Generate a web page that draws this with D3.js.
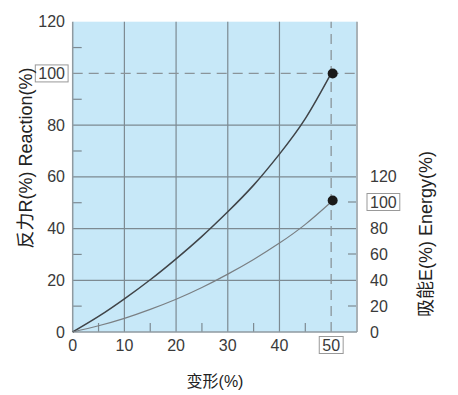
<!DOCTYPE html>
<html><head><meta charset="utf-8">
<script src="https://cdn.jsdelivr.net/npm/d3@7"></script>
<style>body{margin:0;background:#fff}svg{display:block}text{font-family:"Liberation Sans",Arial,"Noto Sans CJK SC",sans-serif}</style>
</head><body><svg id="c" width="458" height="395"></svg>
<script>
const deformation = [0,5,10,15,20,25,30,35,40,45,50];
const reaction    = [0,6,12.8,20.2,28.3,37,46.5,56.8,68.8,82.5,100];
const energy      = [0,4.8,10.5,17.4,25.2,34.2,44.5,55.8,68.4,82.8,100];
const xTicks = [0,10,20,30,40,50];
const yTicks = [0,20,40,60,80,100,120];
const eTicks = [0,20,40,60,80,100,120];
const boxedX = [50], boxedY = [100], boxedE = [100];

const svg = d3.select("#c");
const L=72.7, R=357, T=21.7, B=332;
const x = d3.scaleLinear().domain([0,55]).range([L,R]);
const y = d3.scaleLinear().domain([0,120]).range([B,T]);
const ey = d3.scaleLinear().domain([0,120]).range([B,176]);

svg.append("rect").attr("x",L).attr("y",T).attr("width",R-L).attr("height",B-T).attr("fill","#c7e8f8");
const g = svg.append("g");
// grid
[10,20,30,40].forEach(v=>g.append("line").attr("x1",x(v)).attr("x2",x(v)).attr("y1",T).attr("y2",B).attr("stroke","#7d8a92").attr("stroke-width",1.2));
[20,40,60,80].forEach(v=>g.append("line").attr("x1",L).attr("x2",R).attr("y1",y(v)).attr("y2",y(v)).attr("stroke","#7d8a92").attr("stroke-width",1.2));
// minor ticks
[10,30,50,70,90,110].forEach(v=>g.append("line").attr("x1",L).attr("x2",L+9).attr("y1",y(v)).attr("y2",y(v)).attr("stroke","#7d8a92").attr("stroke-width",1.2));
[20,60,100].forEach(v=>g.append("line").attr("x1",R-9).attr("x2",R).attr("y1",ey(v)).attr("y2",ey(v)).attr("stroke","#7d8a92").attr("stroke-width",1.2));
[5,15,25,35,45].forEach(v=>g.append("line").attr("x1",x(v)).attr("x2",x(v)).attr("y1",B-9).attr("y2",B).attr("stroke","#7d8a92").attr("stroke-width",1.2));
// dashed refs
g.append("line").attr("x1",L).attr("x2",R).attr("y1",y(100)).attr("y2",y(100)).attr("stroke","#8a949a").attr("stroke-width",1.3).attr("stroke-dasharray","10,6");
g.append("line").attr("x1",x(50)).attr("x2",x(50)).attr("y1",B).attr("y2",T).attr("stroke","#8a949a").attr("stroke-width",1.3).attr("stroke-dasharray","10,6");
// border
g.append("line").attr("x1",L).attr("x2",L).attr("y1",T).attr("y2",B).attr("stroke","#8f9aa0").attr("stroke-width",1.5);
g.append("line").attr("x1",R).attr("x2",R).attr("y1",T).attr("y2",B).attr("stroke","#a9b2b7").attr("stroke-width",2);
g.append("line").attr("x1",L).attr("x2",R).attr("y1",B).attr("y2",B).attr("stroke","#8f9aa0").attr("stroke-width",1.5);

const line = d3.line().curve(d3.curveNatural);
g.append("path").attr("d",line(deformation.map((d,i)=>[x(d),y(reaction[i])]))).attr("fill","none").attr("stroke","#404448").attr("stroke-width",1.5);
g.append("path").attr("d",line(deformation.map((d,i)=>[x(d),ey(energy[i])]))).attr("fill","none").attr("stroke","#7a7f83").attr("stroke-width",1.2);
g.append("circle").attr("cx",x(50)+1.5).attr("cy",y(100)).attr("r",5).attr("fill","#1a1a1a");
g.append("circle").attr("cx",x(50)+1.5).attr("cy",ey(100)-1.5).attr("r",5).attr("fill","#1a1a1a");

const tc="#3a3a3a", fs=16;
function label(tx,ty,txt,anchor,boxed){
  const t=svg.append("text").attr("x",tx).attr("y",ty).attr("text-anchor",anchor).attr("dominant-baseline","central").attr("font-size",fs).attr("fill",tc).text(txt);
  if(boxed){const bb=t.node().getBBox();svg.insert("rect","text").attr("x",bb.x-3).attr("y",bb.y).attr("width",bb.width+6).attr("height",bb.height).attr("fill","#fff").attr("stroke","#999").attr("stroke-width",1);}
}
yTicks.forEach(v=>label(65,y(v),v,"end",boxedY.includes(v)));
eTicks.forEach(v=>label(370,ey(v),v,"start",boxedE.includes(v)));
xTicks.forEach(v=>label(x(v),345,v,"middle",boxedX.includes(v)));

svg.append("text").attr("transform","translate(26,158) rotate(-90)").attr("text-anchor","middle").attr("dominant-baseline","central").attr("font-size",18).attr("fill","#222").text("反力R(%) Reaction(%)");
svg.append("text").attr("transform","translate(426,234) rotate(-90)").attr("text-anchor","middle").attr("dominant-baseline","central").attr("font-size",18).attr("fill","#222").text("吸能E(%) Energy(%)");
svg.append("text").attr("x",215).attr("y",381).attr("text-anchor","middle").attr("dominant-baseline","central").attr("font-size",16).attr("fill","#222").text("变形(%)");
</script></body></html>
